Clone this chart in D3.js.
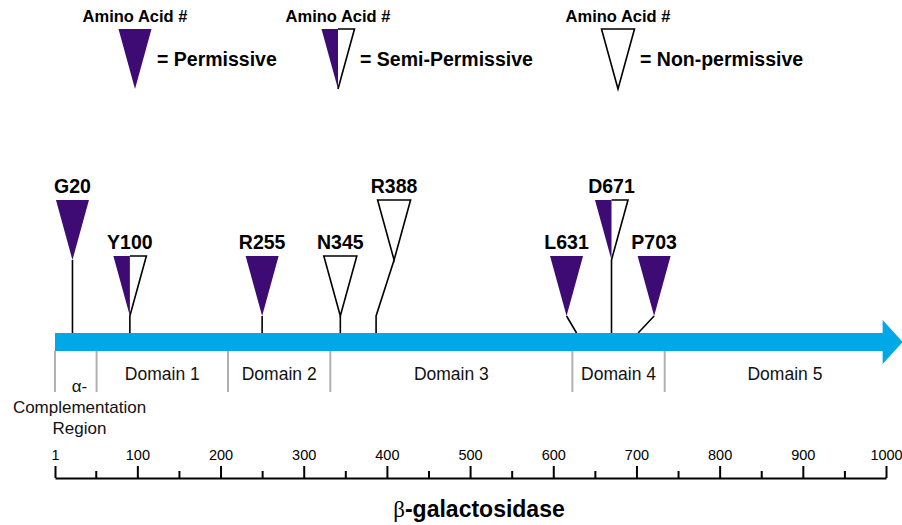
<!DOCTYPE html>
<html>
    <head>
        <style>
            body { margin: 0; background: #fff; }
            text { font-family: "Liberation Sans", Arial, sans-serif; fill: #000; }
            .mark text { font-size: 19.5px; font-weight: bold; text-anchor: middle; }
            .legend text { font-weight: bold; }
            .domain-label { font-size: 17.5px; text-anchor: middle; fill: #111; }
            .alpha-label { font-size: 17px; text-anchor: middle; fill: #111; }
            .title { font-size: 23px; font-weight: bold; text-anchor: middle; }
        </style>

    <script src="https://d3js.org/d3.v7.min.js"></script>
    <script>
        // mutation sites (label, amino acid position as drawn, class, row)
        var siteLabels = ["G20", "Y100", "R255", "N345", "R388", "L631", "D671", "P703"];
        var sitePos = [22, 91, 250, 344, 387, 628, 670, 702];
        var siteType = ["P", "S", "P", "N", "N", "P", "S", "P"];
        var siteRow = ["high", "low", "low", "low", "high", "low", "high", "low"];

        // domains of the protein
        var domainNames = ["", "Domain 1", "Domain 2", "Domain 3", "Domain 4", "Domain 5"];
        var domainBounds = [1, 51, 209, 332, 623, 734, 1023];
        var alphaLines = ["\u03b1-", "Complementation", "Region"];

        var legendTypes = ["P", "S", "N"];
        var legendNames = ["= Permissive", "= Semi-Permissive", "= Non-permissive"];

        var majorTicks = [1, 100, 200, 300, 400, 500, 600, 700, 800, 900, 1000];
        var minorTicks = [50, 150, 250, 350, 450, 550, 650, 750, 850, 950];

        var purple = "#3d0b73";
        var blue = "#00a8e8";

        function triangle (g, cx, top, type) {
            var w = 33, h = 60;
            var l = cx - w / 2, r = cx + w / 2, tip = top + h;
            if (type == "P") {
                g.append("path")
                    .attr("d", "M" + l + "," + top + "L" + r + "," + top + "L" + cx + "," + tip + "Z")
                    .attr("fill", purple);
            } else if (type == "N") {
                g.append("path")
                    .attr("d", "M" + l + "," + top + "L" + r + "," + top + "L" + cx + "," + tip + "Z")
                    .attr("fill", "#fff").attr("stroke", "#000").attr("stroke-width", 1.6)
                    .attr("stroke-linejoin", "miter");
            } else {
                g.append("path")
                    .attr("d", "M" + cx + "," + top + "L" + r + "," + top + "L" + cx + "," + tip + "Z")
                    .attr("fill", "#fff");
                g.append("path")
                    .attr("d", "M" + cx + "," + top + "L" + r + "," + top + "L" + cx + "," + tip)
                    .attr("fill", "none").attr("stroke", "#000").attr("stroke-width", 1.6);
                g.append("path")
                    .attr("d", "M" + l + "," + top + "L" + cx + "," + top + "L" + cx + "," + tip + "Z")
                    .attr("fill", purple);
            }
        }

        function draw () {
            var svg = d3.select("svg");

            var x = d3.scaleLinear().domain([1, 1000]).range([55, 886]);

            var barTop = 333, barBot = 351;
            var rows = { high: 200, low: 256 };
            // sideways shift (px) of a marker from its leader line
            var nudge = { R388: 18, L631: -10, P703: 16 };

            // legend
            var legendX = [135, 338, 618];
            var lg = svg.append("g").attr("class", "legend");
            legendTypes.forEach(function (t, i) {
                var cx = legendX[i];
                lg.append("text").attr("x", cx).attr("y", 22)
                    .attr("text-anchor", "middle").style("font-size", "16.5px")
                    .text("Amino Acid #");
                triangle(lg, cx, 29, t);
                lg.append("text").attr("x", cx + 22).attr("y", 66)
                    .style("font-size", "19.5px")
                    .text(legendNames[i]);
            });

            // leader lines + markers
            var mk = svg.append("g").attr("class", "mark");
            siteLabels.forEach(function (lab, i) {
                var sx = x(sitePos[i]);
                var dx = nudge[lab] || 0;
                var top = rows[siteRow[i]];
                var tip = top + 60;
                var d;
                if (dx == 0) {
                    d = "M" + sx + "," + barTop + "L" + sx + "," + tip;
                } else if (siteRow[i] == "high") {
                    d = "M" + sx + "," + barTop + "L" + sx + "," + (rows.low + 60) + "L" + (sx + dx) + "," + tip;
                } else {
                    d = "M" + sx + "," + barTop + "L" + (sx + dx) + "," + tip;
                }
                mk.append("path").attr("d", d)
                    .attr("fill", "none").attr("stroke", "#000").attr("stroke-width", 1.6);
                triangle(mk, sx + dx, top, siteType[i]);
                mk.append("text").attr("x", sx + dx).attr("y", top - 7).text(lab);
            });

            // blue arrow
            var x0 = x(1), xTip = x(1020), headLen = 20;
            svg.append("path")
                .attr("d", "M" + x0 + "," + barTop + "L" + (xTip - headLen) + "," + barTop +
                    "L" + (xTip - headLen) + ",320L" + xTip + ",342L" + (xTip - headLen) + ",364L" +
                    (xTip - headLen) + "," + barBot + "L" + x0 + "," + barBot + "Z")
                .attr("fill", blue);

            // domain dividers and names
            var dg = svg.append("g");
            domainBounds.slice(0, -1).forEach(function (b) {
                dg.append("line")
                    .attr("x1", x(b)).attr("x2", x(b))
                    .attr("y1", barBot).attr("y2", 392)
                    .attr("stroke", "#b0b0b0").attr("stroke-width", 2);
            });
            domainNames.forEach(function (n, i) {
                if (!n) return;
                dg.append("text").attr("class", "domain-label")
                    .attr("x", (x(domainBounds[i]) + x(domainBounds[i + 1])) / 2)
                    .attr("y", 380)
                    .text(n);
            });
            alphaLines.forEach(function (t, i) {
                dg.append("text").attr("class", "alpha-label")
                    .attr("x", 79.5).attr("y", 392 + i * 21)
                    .text(t);
            });

            // amino acid scale
            var axY = 478;
            var ax = svg.append("g")
                .attr("transform", "translate(0," + axY + ")");
            ax.call(d3.axisTop(x).tickValues(majorTicks).tickFormat(d3.format("d"))
                .tickSize(12).tickSizeOuter(0).tickPadding(6));
            ax.attr("font-size", 14.5).attr("font-family", "Liberation Sans, Arial, sans-serif");
            ax.selectAll("text").attr("fill", "#111");
            ax.selectAll("line").attr("stroke-width", 2).attr("stroke", "#000");
            ax.select(".domain").attr("stroke-width", 2).attr("stroke", "#000");

            var minor = svg.append("g").attr("transform", "translate(0," + axY + ")");
            minor.call(d3.axisTop(x).tickValues(minorTicks).tickSize(7).tickSizeOuter(0).tickFormat(""));
            minor.select(".domain").remove();
            minor.selectAll("line").attr("stroke-width", 2).attr("stroke", "#000");

            var title = svg.append("text").attr("class", "title")
                .attr("x", 479).attr("y", 517);
            title.append("tspan").style("font-family", "'Liberation Serif', serif")
                .style("font-weight", "normal").text("\u03b2");
            title.append("tspan").text("-galactosidase");
        }
    </script>
    </head>
    <body onload="draw()">
        <svg width="902" height="525"></svg>
    </body>
</html>
